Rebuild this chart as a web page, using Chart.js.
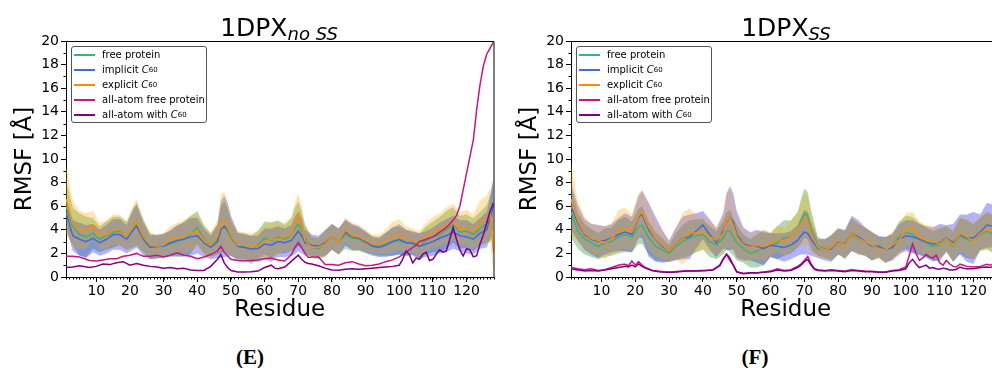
<!DOCTYPE html>
<html>
<head>
<meta charset="utf-8">
<script src="https://cdn.jsdelivr.net/npm/chart.js@4.4.1/dist/chart.umd.min.js"></script>
<style>
  html, body { margin: 0; padding: 0; background: #fff; }
  body { width: 992px; height: 368px; overflow: hidden; position: relative; font-family: 'DejaVu Sans', sans-serif; }
  .panel { position: absolute; top: 0; height: 368px; }
  canvas { position: absolute; left: 0; top: 0; }
  .title { position: absolute; top: 15px; width: 400px; text-align: center; font-size: 25px; line-height: 25px; color: #000; white-space: nowrap; }
  .title sub { font-size: 18px; font-style: italic; vertical-align: -4px; line-height: 0; }
  .legend { position: absolute; top: 46px; width: 134px; height: 75px; border: 1px solid #555; border-radius: 3px;
            background: rgba(255,255,255,0.85); font-size: 10px; color: #000; }
  .legend .row { position: absolute; left: 2px; height: 15px; display: flex; align-items: center; white-space: nowrap; }
  .legend .sw { display: inline-block; width: 21px; height: 0; border-top: 2px solid; margin-right: 7px; }
  .legend sub { font-size: 7px; vertical-align: -2px; line-height: 0; }
  .caption { position: absolute; top: 345px; width: 100px; text-align: center; font: bold 21px 'Liberation Serif', serif; line-height: 24px; }
</style>
</head>
<body>

<div class="panel" id="panelE" style="left:0; width:500px;">
  <canvas id="chartE" width="500" height="340"></canvas>
</div>
<div class="panel" id="panelF" style="left:505px; width:502px;">
  <canvas id="chartF" width="502" height="340"></canvas>
</div>

<div class="title" style="left:79px">1DPX<sub>no SS</sub></div>
<div class="title" style="left:586px">1DPX<sub>SS</sub></div>

<div class="legend" style="left:71px">
  <div class="row" style="top:0px"><span class="sw" style="border-color:#3CB371"></span>free protein</div>
  <div class="row" style="top:15px"><span class="sw" style="border-color:#4169E1"></span>implicit&nbsp;<i>C</i><sub>60</sub></div>
  <div class="row" style="top:30px"><span class="sw" style="border-color:#FF8C00"></span>explicit&nbsp;<i>C</i><sub>60</sub></div>
  <div class="row" style="top:45px"><span class="sw" style="border-color:#C71585"></span>all-atom free protein</div>
  <div class="row" style="top:60px"><span class="sw" style="border-color:#800080"></span>all-atom with&nbsp;<i>C</i><sub>60</sub></div>
</div>
<div class="legend" style="left:576px">
  <div class="row" style="top:0px"><span class="sw" style="border-color:#3CB371"></span>free protein</div>
  <div class="row" style="top:15px"><span class="sw" style="border-color:#4169E1"></span>implicit&nbsp;<i>C</i><sub>60</sub></div>
  <div class="row" style="top:30px"><span class="sw" style="border-color:#FF8C00"></span>explicit&nbsp;<i>C</i><sub>60</sub></div>
  <div class="row" style="top:45px"><span class="sw" style="border-color:#C71585"></span>all-atom free protein</div>
  <div class="row" style="top:60px"><span class="sw" style="border-color:#800080"></span>all-atom with&nbsp;<i>C</i><sub>60</sub></div>
</div>

<div class="caption" style="left:200px">(E)</div>
<div class="caption" style="left:705px">(F)</div>

<script>
// residue grid for the coarse-grained means / std bands (both panels)
const residues = [
  1, 3, 5, 7, 9, 11, 13, 15, 17, 19,
  21, 22, 24, 26, 28, 30, 32, 34, 36, 38,
  40, 42, 44, 46, 47, 48, 49, 50, 52, 54,
  56, 58, 60, 62, 64, 66, 68, 69, 70, 71,
  72, 74, 76, 78, 80, 82, 84, 86, 88, 90,
  92, 94, 96, 98, 100, 102, 104, 106, 108, 110,
  112, 114, 116, 118, 120, 122, 124, 126, 127, 128,
];
const xTicks = [10, 20, 30, 40, 50, 60, 70, 80, 90, 100, 110, 120];

// ---- panel E (1DPX no SS) ----
const freeE = [
  6.0, 4.3, 3.6, 3.4, 3.7, 3.2, 3.5, 3.8, 3.9, 3.5,
  4.2, 4.5, 3.5, 2.6, 2.5, 2.7, 2.8, 3.0, 3.2, 3.6,
  4.2, 3.2, 2.7, 3.2, 4.0, 4.3, 3.9, 3.3, 2.6, 2.6,
  2.3, 2.7, 3.3, 3.1, 3.4, 3.2, 3.6, 4.1, 4.5, 4.0,
  3.3, 2.5, 2.4, 2.8, 3.4, 3.0, 3.6, 3.3, 3.2, 2.9,
  2.7, 2.6, 2.8, 3.0, 3.1, 2.9, 2.8, 2.6, 3.1, 3.4,
  3.6, 4.0, 4.4, 3.8, 3.9, 3.6, 4.1, 4.5, 5.0, 6.0,
];
const freeSdE = [
  2.2, 1.6, 1.8, 1.7, 1.3, 1.1, 1.2, 1.3, 1.2, 1.2,
  1.7, 1.8, 1.4, 1.1, 1.0, 1.0, 1.1, 1.3, 1.5, 1.6,
  1.4, 1.2, 1.0, 1.3, 2.0, 2.1, 1.9, 1.5, 1.1, 1.1,
  1.2, 1.2, 1.4, 1.5, 1.4, 1.2, 1.4, 1.8, 1.9, 1.6,
  1.2, 0.9, 0.9, 1.1, 1.1, 1.1, 1.2, 1.1, 1.0, 0.9,
  0.8, 0.8, 1.0, 1.2, 1.2, 1.1, 1.0, 1.1, 1.2, 1.3,
  1.5, 1.6, 1.5, 1.4, 1.4, 1.4, 1.4, 1.6, 2.0, 2.5,
];
const implE = [
  5.5, 3.5, 3.2, 3.0, 3.3, 2.9, 3.2, 3.6, 3.6, 3.2,
  4.0, 4.3, 3.2, 2.5, 2.6, 2.6, 2.9, 3.1, 3.2, 3.4,
  3.5, 2.9, 2.5, 3.0, 4.0, 4.3, 4.0, 3.5, 2.6, 2.5,
  2.4, 2.4, 2.8, 2.7, 3.0, 2.9, 3.1, 3.5, 3.9, 3.5,
  2.9, 2.7, 2.6, 2.9, 3.4, 3.0, 3.8, 3.4, 3.3, 3.0,
  2.6, 2.5, 2.7, 3.0, 3.2, 2.9, 2.9, 2.6, 2.8, 3.0,
  3.3, 3.5, 3.8, 3.5, 3.4, 3.2, 3.7, 4.0, 5.0, 6.2,
];
const implSdE = [
  1.2, 1.3, 1.4, 1.4, 1.2, 1.1, 1.2, 1.3, 1.3, 1.2,
  1.7, 1.8, 1.4, 1.0, 1.0, 1.0, 1.1, 1.3, 1.4, 1.6,
  1.5, 1.2, 1.0, 1.4, 2.4, 2.6, 2.3, 1.7, 1.2, 1.1,
  1.1, 1.1, 1.3, 1.4, 1.3, 1.2, 1.3, 1.6, 1.7, 1.5,
  1.1, 0.9, 0.9, 1.1, 1.1, 1.1, 1.1, 1.1, 1.0, 0.9,
  0.8, 0.8, 1.0, 1.2, 1.3, 1.1, 1.0, 1.1, 1.1, 1.2,
  1.3, 1.4, 1.4, 1.3, 1.4, 1.3, 1.3, 1.5, 1.8, 2.0,
];
const explE = [
  6.6, 4.5, 4.0, 3.95, 4.4, 3.5, 3.6, 4.0, 4.0, 3.5,
  4.3, 4.7, 3.4, 2.7, 2.6, 2.7, 3.2, 3.3, 3.4, 3.7,
  3.9, 3.1, 2.7, 3.4, 4.6, 4.7, 4.2, 3.5, 2.7, 2.7,
  2.5, 2.6, 3.0, 3.2, 3.2, 3.4, 3.6, 4.5, 5.2, 4.4,
  3.1, 2.5, 2.5, 2.8, 3.4, 3.0, 4.0, 3.5, 3.4, 3.1,
  2.8, 2.8, 3.0, 3.4, 3.6, 3.2, 3.1, 2.8, 3.4, 3.8,
  4.0, 4.4, 4.7, 4.1, 4.2, 3.8, 4.7, 4.9, 5.3, 2.1,
];
const explSdE = [
  2.9, 2.0, 1.6, 1.5, 1.2, 1.1, 1.2, 1.3, 1.3, 1.2,
  1.8, 1.9, 1.4, 1.1, 1.0, 1.0, 1.1, 1.3, 1.4, 1.5,
  1.4, 1.2, 1.1, 1.4, 2.4, 2.5, 2.2, 1.6, 1.2, 1.1,
  1.2, 1.3, 1.4, 1.5, 1.4, 1.2, 1.5, 1.8, 1.9, 1.7,
  1.2, 0.9, 0.9, 1.1, 1.1, 1.1, 1.0, 1.1, 1.0, 0.9,
  0.8, 0.8, 1.0, 1.3, 1.3, 1.1, 1.0, 1.1, 1.2, 1.3,
  1.4, 1.5, 1.5, 1.4, 1.5, 1.5, 1.8, 2.0, 2.3, 2.0,
];
// all-atom runs, panel E
const aaResE = [
  1, 3, 5, 8, 10, 12, 14, 16, 18, 20,
  22, 24, 26, 28, 30, 32, 34, 36, 38, 40,
  42, 44, 46, 47, 48, 49, 50, 52, 54, 56,
  58, 60, 62, 63, 64, 66, 68, 69, 70, 71,
  72, 73, 74, 76, 78, 80, 82, 84, 86, 88,
  90, 92, 94, 96, 98, 100, 101, 102, 103, 104,
  105, 106, 107, 108, 109, 110, 111, 112, 113, 114,
  115, 116, 117, 118, 119, 120, 121, 122, 123, 124,
  125, 126, 127, 128,
];
const aaFreeE = [
  1.75, 1.75, 1.7, 1.4, 1.35, 1.45, 1.55, 1.55, 1.75, 1.85,
  2.0, 1.75, 1.75, 1.85, 1.7, 1.85, 2.05, 1.85, 1.75, 1.55,
  1.7, 1.9, 2.2, 2.6, 2.1, 1.8, 1.5, 1.4, 1.35, 1.4,
  1.45, 1.55, 1.6, 1.5, 1.45, 1.35, 1.9, 2.5, 2.9, 2.5,
  2.0, 1.65, 1.7, 1.7, 1.05, 1.05, 1.0, 1.2, 1.3, 1.1,
  0.95, 1.0, 1.1, 1.3, 1.45, 1.7, 1.9, 2.1, 2.3, 2.5,
  2.7, 3.0, 3.1, 3.2, 3.3, 3.4, 3.6, 3.8, 4.0, 4.2,
  4.5, 4.8, 5.2, 6.0, 7.4, 8.8, 10.2, 11.6, 14.2, 16.3,
  17.9, 18.9, 19.4, 19.9,
];
const aaC60E = [
  0.8, 0.85, 0.95, 0.8, 0.9, 1.1, 1.05, 1.2, 1.3, 1.0,
  1.15, 1.0, 0.9, 0.85, 0.75, 0.8, 0.7, 0.75, 0.6, 0.55,
  0.55, 0.9, 1.5, 1.9, 1.2, 0.8, 0.55, 0.42, 0.42, 0.45,
  0.5, 0.8, 1.0, 0.75, 0.7, 0.85, 1.35, 1.6, 1.85, 1.5,
  1.25, 1.15, 1.1, 0.95, 0.75, 0.6, 0.57, 0.65, 0.7, 0.65,
  0.7, 0.75, 0.8, 0.85, 0.9, 1.0, 1.5, 2.2, 1.9, 1.2,
  1.6, 1.5, 1.95, 2.1, 1.4, 1.5, 1.95, 2.3, 2.1, 2.2,
  3.2, 4.2, 3.2, 2.3, 1.8, 2.4, 2.3, 1.7, 1.8, 2.8,
  3.6, 4.6, 5.6, 6.3,
];

// ---- panel F (1DPX SS) ----
const freeF = [
  5.5, 3.9, 3.2, 2.9, 2.6, 2.9, 3.0, 3.4, 3.6, 3.4,
  4.3, 4.4, 3.3, 2.6, 2.3, 2.0, 2.6, 3.0, 3.3, 3.5,
  3.6, 3.0, 2.7, 3.3, 3.9, 3.9, 3.4, 2.9, 2.4, 2.0,
  2.2, 2.5, 2.7, 2.9, 3.3, 3.4, 4.0, 4.7, 5.4, 5.2,
  4.0, 2.6, 2.4, 2.5, 3.0, 2.7, 3.6, 3.2, 3.0, 2.6,
  2.5, 2.3, 2.6, 3.4, 3.8, 3.6, 3.2, 2.9, 2.6, 2.8,
  3.2, 2.6, 3.5, 3.2, 3.0, 3.6, 3.9, 3.6, 3.6, 3.5,
];
const freeSdF = [
  2.2, 1.5, 1.3, 1.2, 1.1, 1.2, 1.2, 1.4, 1.5, 1.3,
  1.5, 1.6, 1.4, 1.2, 1.0, 0.7, 1.1, 1.4, 1.5, 1.4,
  1.3, 1.3, 1.2, 1.4, 1.6, 1.8, 1.6, 1.5, 1.2, 1.2,
  1.4, 1.5, 1.0, 1.4, 1.5, 1.4, 1.5, 1.9, 2.1, 2.0,
  1.7, 0.8, 0.8, 1.1, 1.1, 1.2, 1.4, 1.3, 1.2, 1.2,
  0.9, 1.1, 1.1, 1.3, 1.4, 1.5, 1.4, 1.3, 1.3, 1.3,
  1.1, 1.3, 1.5, 1.6, 1.5, 1.4, 1.6, 1.6, 1.6, 1.6,
];
const implF = [
  6.0, 4.6, 3.6, 3.2, 3.0, 3.1, 3.3, 3.6, 3.8, 3.6,
  5.1, 5.3, 4.0, 3.2, 2.6, 2.2, 2.8, 3.3, 3.4, 3.9,
  4.4, 3.6, 2.9, 3.9, 4.7, 5.0, 4.7, 3.6, 2.8, 2.6,
  2.6, 2.4, 2.7, 2.6, 2.5, 2.7, 3.1, 3.5, 3.8, 3.7,
  3.2, 2.4, 2.3, 2.4, 3.0, 2.8, 3.7, 3.4, 3.0, 2.6,
  2.6, 2.3, 2.5, 3.2, 3.5, 3.4, 3.2, 3.0, 2.8, 2.9,
  3.3, 2.9, 3.6, 3.3, 3.3, 3.8, 4.4, 4.3, 4.1, 4.0,
];
const implSdF = [
  2.0, 1.5, 1.3, 1.3, 1.4, 1.2, 1.2, 1.4, 1.6, 1.5,
  1.8, 2.0, 2.3, 1.9, 1.4, 0.9, 1.4, 1.8, 1.9, 1.5,
  1.2, 1.3, 1.2, 1.5, 2.4, 2.7, 2.4, 2.0, 1.4, 1.2,
  1.4, 1.4, 1.0, 1.1, 1.2, 1.2, 1.3, 1.6, 1.9, 1.8,
  1.4, 0.8, 0.9, 1.1, 1.1, 1.2, 1.5, 1.4, 1.2, 1.2,
  0.9, 1.1, 1.1, 1.3, 1.3, 1.4, 1.3, 1.3, 1.4, 1.6,
  1.1, 1.6, 1.7, 2.0, 2.2, 1.5, 1.9, 1.8, 1.9, 1.9,
];
const explF = [
  6.6, 4.8, 3.7, 3.25, 3.1, 2.9, 3.25, 3.9, 4.1, 3.8,
  5.2, 5.5, 4.2, 3.25, 2.7, 2.2, 2.8, 3.25, 3.8, 3.7,
  3.8, 3.4, 3.1, 3.7, 4.8, 4.95, 4.4, 3.4, 2.7, 2.5,
  2.7, 2.6, 2.8, 3.25, 3.0, 3.4, 4.0, 4.5, 4.9, 4.8,
  3.7, 2.5, 2.3, 2.5, 3.1, 2.7, 3.7, 3.25, 3.0, 2.7,
  2.4, 2.3, 2.7, 3.1, 4.0, 4.1, 3.4, 3.1, 3.0, 2.8,
  3.25, 2.7, 3.7, 3.4, 3.0, 3.7, 4.0, 3.8, 3.7, 3.6,
];
const explSdF = [
  3.0, 1.7, 1.4, 1.3, 1.3, 1.4, 1.3, 1.8, 1.8, 1.5,
  1.9, 1.9, 1.9, 1.5, 1.2, 0.9, 1.3, 2.2, 2.0, 1.6,
  1.4, 1.3, 1.2, 1.6, 2.3, 2.5, 2.2, 1.7, 1.3, 1.1,
  1.2, 1.3, 1.0, 1.1, 1.2, 1.3, 1.4, 1.8, 2.2, 2.1,
  1.6, 0.8, 0.8, 1.1, 1.1, 1.2, 1.4, 1.4, 1.2, 1.2,
  0.9, 1.1, 1.1, 1.3, 1.4, 1.4, 1.3, 1.3, 1.3, 1.4,
  1.1, 1.3, 1.5, 1.6, 1.6, 1.4, 1.6, 1.6, 1.6, 1.6,
];
const aaResF = [
  1, 3, 5, 7, 9, 11, 13, 15, 16, 17,
  18, 19, 20, 21, 22, 23, 25, 27, 29, 31,
  33, 35, 37, 39, 41, 43, 45, 46, 47, 48,
  49, 50, 52, 54, 56, 58, 60, 62, 64, 66,
  68, 69, 70, 71, 72, 73, 74, 76, 78, 80,
  82, 84, 86, 88, 90, 92, 94, 96, 98, 100,
  101, 102, 103, 104, 105, 106, 107, 108, 109, 110,
  111, 112, 113, 114, 115, 116, 117, 118, 120, 122,
  124, 125, 126, 127, 128,
];
const aaFreeF = [
  0.8, 0.7, 0.62, 0.7, 0.56, 0.62, 0.8, 1.0, 1.05, 1.07,
  0.95, 1.35, 1.0, 1.3, 1.0, 0.8, 0.55, 0.48, 0.42, 0.42,
  0.48, 0.5, 0.5, 0.56, 0.56, 0.62, 1.0, 1.55, 1.9, 1.4,
  0.99, 0.42, 0.28, 0.34, 0.34, 0.42, 0.5, 0.7, 0.56, 0.62,
  0.9, 1.1, 1.4, 1.75, 1.1, 0.7, 0.62, 0.56, 0.62, 0.56,
  0.5, 0.62, 0.56, 0.5, 0.48, 0.42, 0.42, 0.56, 0.62, 0.85,
  1.8, 2.8, 2.0, 1.4, 1.6, 1.9, 1.7, 1.6, 1.85, 1.2,
  1.0, 1.4, 1.1, 0.9, 0.85, 1.1, 0.99, 0.9, 0.85, 0.9,
  1.07, 0.99, 1.13, 1.0, 1.05,
];
const aaC60F = [
  0.7, 0.6, 0.5, 0.55, 0.5, 0.6, 0.7, 0.8, 0.85, 0.9,
  0.85, 1.0, 0.85, 1.1, 0.9, 0.75, 0.55, 0.45, 0.4, 0.4,
  0.45, 0.5, 0.5, 0.5, 0.55, 0.6, 0.95, 1.5, 1.95, 1.6,
  1.0, 0.45, 0.3, 0.35, 0.35, 0.4, 0.45, 0.6, 0.5, 0.55,
  0.8, 1.0, 1.3, 1.5, 1.0, 0.65, 0.55, 0.5, 0.55, 0.5,
  0.45, 0.55, 0.5, 0.45, 0.45, 0.4, 0.4, 0.5, 0.55, 0.7,
  1.2, 1.5, 1.1, 0.8, 0.9, 1.0, 0.75, 0.8, 0.7, 0.65,
  0.75, 0.7, 0.6, 0.6, 0.65, 0.85, 0.75, 0.7, 0.7, 0.8,
  0.85, 0.8, 0.95, 0.85, 0.9,
];

const FONT = "'DejaVu Sans', sans-serif";

function pts(xs, ys) {
  return xs.map((x, i) => ({ x, y: ys[i] }));
}

function line(xs, ys, color, order) {
  return { data: pts(xs, ys), borderColor: color, borderWidth: 1.5, pointRadius: 0, fill: false, order };
}

// mean +/- std band: upper edge filled down to the next dataset (lower edge)
function band(xs, mean, sd, color, order) {
  const up = mean.map((m, i) => m + sd[i]);
  const lo = mean.map((m, i) => m - sd[i]);
  return [
    { data: pts(xs, up), borderWidth: 0, pointRadius: 0, fill: '+1', backgroundColor: color, order },
    { data: pts(xs, lo), borderWidth: 0, pointRadius: 0, fill: false, order },
  ];
}

// top/right spines and minor ticks, placed through the chart's own scales
const framePlugin = {
  id: 'frame',
  afterDraw(chart) {
    const { ctx, chartArea: a, scales: { x, y } } = chart;
    ctx.save();
    ctx.strokeStyle = '#000';
    ctx.lineWidth = 1;
    ctx.beginPath();
    ctx.moveTo(a.left, a.top + 0.5);
    ctx.lineTo(a.right + 0.5, a.top + 0.5);
    ctx.lineTo(a.right + 0.5, a.bottom);
    ctx.stroke();
    ctx.beginPath();
    for (let r = Math.ceil(x.min); r <= x.max; r++) {
      const px = Math.round(x.getPixelForValue(r)) + 0.5;
      ctx.moveTo(px, a.bottom);
      ctx.lineTo(px, a.bottom + 2.5);
    }
    for (let v = y.min + 1; v < y.max; v += 2) {
      const py = Math.round(y.getPixelForValue(v)) + 0.5;
      ctx.moveTo(a.left, py);
      ctx.lineTo(a.left - 2.5, py);
    }
    ctx.stroke();
    ctx.restore();
  },
};

function makeChart(id, s, padRight) {
  const datasets = [
    line(residues, s.free, '#3CB371', 5),
    line(residues, s.impl, '#4169E1', 4),
    line(residues, s.expl, '#FF8C00', 3),
    line(s.aaRes, s.aaFree, '#C71585', 2),
    line(s.aaRes, s.aaC60, '#800080', 1),
    ...band(residues, s.free, s.freeSd, 'rgba(0,128,0,0.3)', 10),
    ...band(residues, s.impl, s.implSd, 'rgba(0,0,255,0.3)', 9),
    ...band(residues, s.expl, s.explSd, 'rgba(255,165,0,0.3)', 8),
  ];
  return new Chart(document.getElementById(id), {
    type: 'line',
    data: { datasets },
    plugins: [framePlugin],
    options: {
      responsive: false,
      animation: false,
      events: [],
      devicePixelRatio: 1,
      layout: { padding: { top: 41, right: padRight, left: 0, bottom: 0 } },
      elements: { line: { tension: 0 } },
      plugins: { legend: { display: false }, tooltip: { enabled: false } },
      scales: {
        x: {
          type: 'linear',
          min: 1,
          max: 128,
          afterBuildTicks: sc => { sc.ticks = xTicks.map(v => ({ value: v })); },
          afterFit: sc => { sc.height = 63; },
          ticks: { color: '#000', font: { family: FONT, size: 14 }, padding: 1, maxRotation: 0, autoSkip: false },
          grid: { display: true, drawOnChartArea: false, drawTicks: true, tickLength: 5, tickColor: '#000', color: '#000' },
          border: { display: true, color: '#000', width: 1 },
          title: { display: true, text: 'Residue', color: '#000', font: { family: FONT, size: 23 }, padding: { top: 0, bottom: 16 } },
        },
        y: {
          min: 0,
          max: 20,
          afterFit: sc => { sc.width = 66; },
          ticks: { stepSize: 2, color: '#000', font: { family: FONT, size: 14 }, padding: 2 },
          grid: { display: true, drawOnChartArea: false, drawTicks: true, tickLength: 5, tickColor: '#000', color: '#000' },
          border: { display: true, color: '#000', width: 1 },
          title: { display: true, text: 'RMSF [Å]', color: '#000', font: { family: FONT, size: 23 }, padding: { top: 11, bottom: 0 } },
        },
      },
    },
  });
}

makeChart('chartE', {
  free: freeE, freeSd: freeSdE, impl: implE, implSd: implSdE, expl: explE, explSd: explSdE,
  aaRes: aaResE, aaFree: aaFreeE, aaC60: aaC60E,
}, 6.5);

makeChart('chartF', {
  free: freeF, freeSd: freeSdF, impl: implF, implSd: implSdF, expl: explF, explSd: explSdF,
  aaRes: aaResF, aaFree: aaFreeF, aaC60: aaC60F,
}, 6.5);
</script>
</body>
</html>
